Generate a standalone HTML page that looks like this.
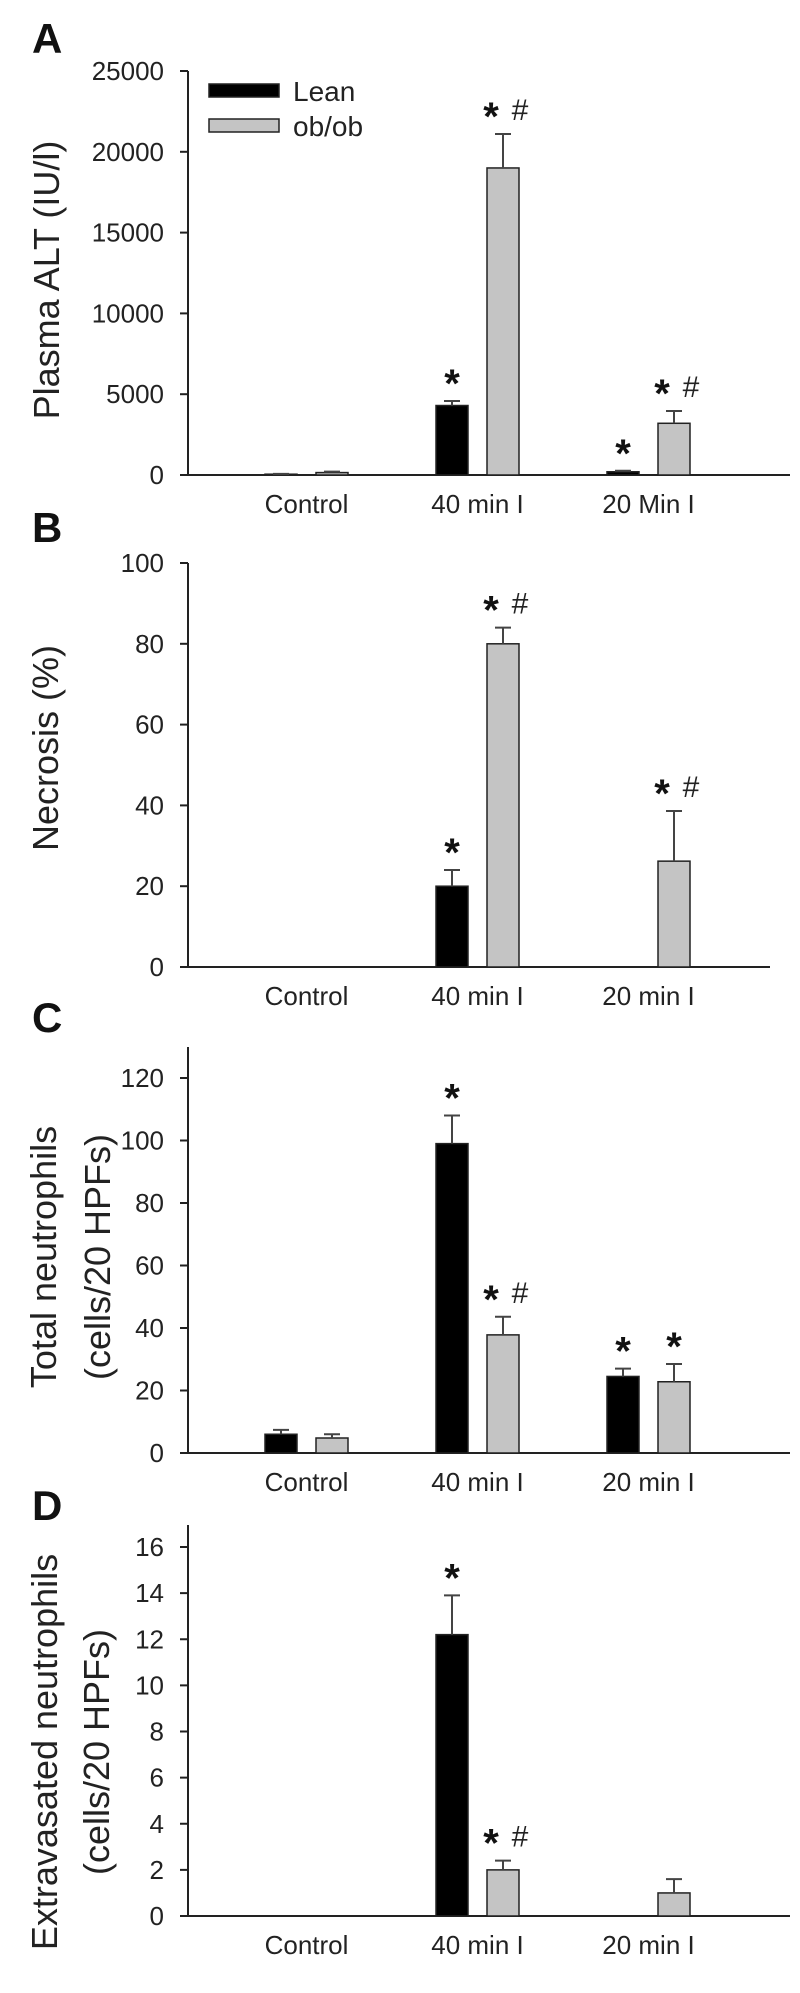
<!DOCTYPE html>
<html><head><meta charset="utf-8"><style>
html,body{margin:0;padding:0;background:#fff;}
svg{display:block;font-family:"Liberation Sans",Arial,sans-serif;}
</style></head><body>
<svg id="fig" width="800" height="1993" viewBox="0 0 800 1993" xmlns="http://www.w3.org/2000/svg"></svg>
<script>
// ---- data ----
const categoriesA = ["Control", "40 min I", "20 Min I"];
const categories = ["Control", "40 min I", "20 min I"];

const altLean = [50, 4300, 200];
const altLeanErr = [20, 280, 60];
const altOb = [150, 19000, 3200];
const altObErr = [60, 2100, 760];
const altTicks = [0, 5000, 10000, 15000, 20000, 25000];
const altLeanMarks = ["", "*", "*"];
const altObMarks = ["", "*#", "*#"];

const necLean = [0, 20, 0];
const necLeanErr = [0, 4, 0];
const necOb = [0, 80, 26.2];
const necObErr = [0, 4, 12.4];
const necTicks = [0, 20, 40, 60, 80, 100];
const necLeanMarks = ["", "*", ""];
const necObMarks = ["", "*#", "*#"];

const totLean = [6, 99, 24.5];
const totLeanErr = [1.4, 9, 2.5];
const totOb = [4.8, 37.8, 22.8];
const totObErr = [1.2, 5.8, 5.7];
const totTicks = [0, 20, 40, 60, 80, 100, 120];
const totLeanMarks = ["", "*", "*"];
const totObMarks = ["", "*#", "*"];

const extLean = [0, 12.2, 0];
const extLeanErr = [0, 1.7, 0];
const extOb = [0, 2.0, 1.0];
const extObErr = [0, 0.4, 0.6];
const extTicks = [0, 2, 4, 6, 8, 10, 12, 14, 16];
const extLeanMarks = ["", "*", ""];
const extObMarks = ["", "*#", ""];

// ---- drawing ----
const svg = document.getElementById('fig');
const NS = 'http://www.w3.org/2000/svg';
function mk(tag, attrs, parent) {
  const e = document.createElementNS(NS, tag);
  for (const k in attrs) e.setAttribute(k, attrs[k]);
  (parent || svg).appendChild(e);
  return e;
}
const AX = 188;
function groupX(i) { return 306.5 + 171 * i; }

function panel(cfg) {
  const g = mk('g', {});
  
  
  const y = v => cfg.y0 - (v - cfg.ticks[0]) / (cfg.ticks[cfg.ticks.length - 1] - cfg.ticks[0]) * (cfg.y0 - cfg.yMaxPx);

  const letter = mk('text', {x: 32, y: cfg.letterY, 'font-size': 42, 'font-weight': 'bold', fill: '#111'}, g);
  letter.textContent = cfg.id.toUpperCase();
  
  

  const ya = mk('line', {x1: AX, x2: AX, y1: cfg.axisTop, y2: cfg.y0, stroke: '#222', 'stroke-width': 2}, g);
  
  
  const xa = mk('line', {x1: 180, x2: cfg.xEnd, y1: cfg.y0, y2: cfg.y0, stroke: '#222', 'stroke-width': 2}, g);
  
  

  cfg.ticks.forEach(t => {
    const ty = y(t);
    const tk = mk('line', {x1: 180, x2: AX, y1: ty, y2: ty, stroke: '#222', 'stroke-width': 2}, g);
    
    
    const tl = mk('text', {x: 164, y: ty + 9, 'font-size': 26, 'text-anchor': 'end', fill: '#222'}, g);
    tl.textContent = String(t);
    
    
  });

  const yl = mk('text', {transform: 'translate(0,' + cfg.labelY + ') rotate(-90)', 'font-size': 36, 'text-anchor': 'middle', fill: '#222'}, g);
  
  
  cfg.ylabel.forEach((line, k) => {
    const ts = mk('tspan', {x: 0, y: cfg.labelX[k] + 13}, yl);
    ts.textContent = line;
  });

  cfg.cats.forEach((c, i) => {
    const t = mk('text', {x: groupX(i), y: cfg.y0 + 38, 'font-size': 26, 'text-anchor': 'middle', fill: '#222'}, g);
    t.textContent = c;
    
    
  });

  const series = [
    {vals: cfg.lean, errs: cfg.leanErr, marks: cfg.leanMarks, off: -25.5, fill: '#000', name: 'lean'},
    {vals: cfg.ob, errs: cfg.obErr, marks: cfg.obMarks, off: 25.5, fill: '#c4c4c4', name: 'obob'}
  ];
  series.forEach(s => {
    s.vals.forEach((v, i) => {
      const cx = groupX(i) + s.off;
      if (v > 0) {
        const top = y(v);
        const r = mk('rect', {x: cx - 16, y: top, width: 32, height: cfg.y0 - top, fill: s.fill, stroke: '#222', 'stroke-width': 1.5}, g);
        
        
      }
      let markBase = y(v);
      if (s.errs[i] > 0) {
        const et = y(v + s.errs[i]);
        const eb = mk('path', {d: 'M' + cx + ' ' + y(v) + 'V' + et + 'M' + (cx - 8) + ' ' + et + 'H' + (cx + 8), stroke: '#444', 'stroke-width': 2, fill: 'none'}, g);
        
        
        markBase = et;
      }
      const m = s.marks[i];
      if (m) {
        const center = markBase - 26;
        const st = mk('text', {x: m.length > 1 ? cx - 12 : cx, y: center + 22, 'font-size': 40, 'font-weight': 'bold', 'text-anchor': 'middle', fill: '#111'}, g);
        st.textContent = '*';
        
        
        if (m.length > 1) {
          const hs = mk('text', {x: cx + 17, y: center + 12, 'font-size': 30, 'text-anchor': 'middle', fill: '#222'}, g);
          hs.textContent = '#';
          
          
        }
      }
    });
  });
}

panel({id: 'a', letterY: 53, axisTop: 71, yMaxPx: 71, y0: 475, xEnd: 790, ticks: altTicks, cats: categoriesA,
  lean: altLean, leanErr: altLeanErr, ob: altOb, obErr: altObErr, leanMarks: altLeanMarks, obMarks: altObMarks,
  ylabel: ['Plasma ALT (IU/l)'], labelX: [46], labelY: 280});
panel({id: 'b', letterY: 542, axisTop: 563, yMaxPx: 563, y0: 967, xEnd: 770, ticks: necTicks, cats: categories,
  lean: necLean, leanErr: necLeanErr, ob: necOb, obErr: necObErr, leanMarks: necLeanMarks, obMarks: necObMarks,
  ylabel: ['Necrosis (%)'], labelX: [45], labelY: 748});
panel({id: 'c', letterY: 1032, axisTop: 1047, yMaxPx: 1078, y0: 1453, xEnd: 790, ticks: totTicks, cats: categories,
  lean: totLean, leanErr: totLeanErr, ob: totOb, obErr: totObErr, leanMarks: totLeanMarks, obMarks: totObMarks,
  ylabel: ['Total neutrophils', '(cells/20 HPFs)'], labelX: [43, 97], labelY: 1257});
panel({id: 'd', letterY: 1520, axisTop: 1525, yMaxPx: 1547, y0: 1916, xEnd: 790, ticks: extTicks, cats: categories,
  lean: extLean, leanErr: extLeanErr, ob: extOb, obErr: extObErr, leanMarks: extLeanMarks, obMarks: extObMarks,
  ylabel: ['Extravasated neutrophils', '(cells/20 HPFs)'], labelX: [44, 96], labelY: 1752});

const lg = mk('g', {});


const l1 = mk('rect', {x: 209, y: 84, width: 70, height: 13, fill: '#000', stroke: '#222', 'stroke-width': 1.5}, lg);


const t1 = mk('text', {x: 293, y: 101, 'font-size': 28, fill: '#222'}, lg);
t1.textContent = 'Lean';


const l2 = mk('rect', {x: 209, y: 119, width: 70, height: 13, fill: '#c4c4c4', stroke: '#222', 'stroke-width': 1.5}, lg);


const t2 = mk('text', {x: 293, y: 136, 'font-size': 28, fill: '#222'}, lg);
t2.textContent = 'ob/ob';


</script>
</body></html>
